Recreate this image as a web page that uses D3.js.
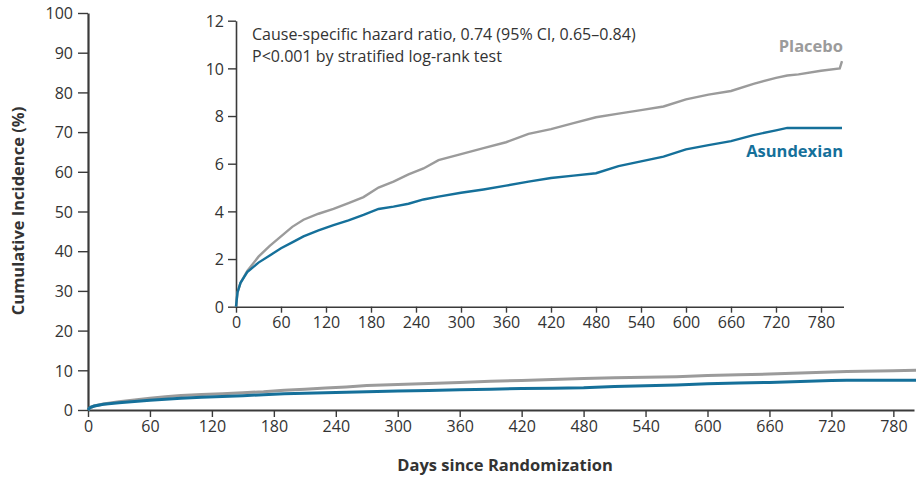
<!DOCTYPE html>
<html>
<head>
<meta charset="utf-8">
<script src="https://cdn.jsdelivr.net/npm/d3@7"></script>
<style>
  body { margin: 0; background: #fff; }
  svg text { font-family: "Open Sans", sans-serif; }
</style>
</head>
<body>
<div id="chart"></div>
<script>
// Data (days, cumulative incidence %)
var days =       [0, 2, 6, 15, 30, 45, 60, 75, 90, 110, 130, 150, 170, 190, 210, 230, 250, 270, 300, 330, 360, 390, 420, 450, 480, 510, 540, 570, 600, 630, 660, 690, 720, 735, 750, 780, 805, 808];
var placebo =    [0, 0.6, 1.0, 1.5, 2.1, 2.55, 2.95, 3.35, 3.65, 3.9, 4.1, 4.35, 4.6, 5.0, 5.25, 5.55, 5.8, 6.15, 6.4, 6.65, 6.9, 7.25, 7.45, 7.7, 7.95, 8.1, 8.25, 8.4, 8.7, 8.9, 9.05, 9.35, 9.6, 9.7, 9.75, 9.9, 10.0, 10.3];
var asundexian = [0, 0.6, 1.0, 1.45, 1.85, 2.15, 2.45, 2.7, 2.95, 3.2, 3.42, 3.62, 3.85, 4.1, 4.2, 4.32, 4.5, 4.62, 4.78, 4.92, 5.08, 5.25, 5.4, 5.5, 5.6, 5.9, 6.1, 6.3, 6.6, 6.78, 6.95, 7.2, 7.4, 7.5, 7.5, 7.5, 7.5, 7.5];

var xTicks = d3.range(0, 781, 60);
var mainYTicks = d3.range(0, 101, 10);
var insetYTicks = d3.range(0, 13, 2);

var seriesNames = ["Placebo", "Asundexian"];
var seriesValues = [placebo, asundexian];
var colors = {"Placebo": "#9b9b9b", "Asundexian": "#15709a"};

var svgWidth = 916;
var svgHeight = 478;

var svg = d3.select("#chart")
  .append("svg")
  .attr("width", svgWidth)
  .attr("height", svgHeight);

var series = seriesNames.map(function(name, i) {
  return {
    name: name,
    points: days.map(function(d, j) { return {day: d, value: seriesValues[i][j]}; })
  };
});

// Main panel scales
var xMain = d3.scaleLinear().domain([0, 800]).range([88, 914]);
var yMain = d3.scaleLinear().domain([0, 100]).range([410, 13]);

// Inset scales
var xInset = d3.scaleLinear().domain([0, 810]).range([236, 843.5]);
var yInset = d3.scaleLinear().domain([0, 12]).range([306.7, 20.7]);

function styleAxis(g, width) {
  g.selectAll("path").attr("stroke", "#3a3a3a").attr("stroke-width", width);
  g.selectAll("line").attr("stroke", "#3a3a3a").attr("stroke-width", 1.4);
  g.selectAll("text").attr("fill", "#333").style("font-size", "16px");
}

// Main axes
var mainX = svg.append("g")
  .attr("transform", "translate(0," + yMain(0) + ")")
  .call(d3.axisBottom(xMain).tickValues(xTicks).tickSize(7).tickSizeOuter(0).tickPadding(4));
styleAxis(mainX, 2.2);

var mainY = svg.append("g")
  .attr("transform", "translate(" + xMain(0) + ",0)")
  .call(d3.axisLeft(yMain).tickValues(mainYTicks).tickSize(10).tickSizeOuter(0).tickPadding(5));
styleAxis(mainY, 2.2);
mainY.selectAll("text").attr("dy", "0.36em");

// Main curves
var mainLine = d3.line()
  .x(function(d) { return xMain(d.day); })
  .y(function(d) { return yMain(d.value); });

svg.selectAll(".main-line")
  .data(series)
  .enter()
  .append("path")
  .attr("class", "main-line")
  .attr("fill", "none")
  .attr("stroke", function(d) { return colors[d.name]; })
  .attr("stroke-width", 3)
  .attr("d", function(d) { return mainLine(d.points); });

// Inset panel
var insetX = svg.append("g")
  .attr("transform", "translate(0," + yInset(0) + ")")
  .call(d3.axisBottom(xInset).tickValues(xTicks).tickSize(6).tickSizeOuter(0).tickPadding(4));
styleAxis(insetX, 1.6);

var insetY = svg.append("g")
  .attr("transform", "translate(" + xInset(0) + ",0)")
  .call(d3.axisLeft(yInset).tickValues(insetYTicks).tickSize(8).tickSizeOuter(0).tickPadding(4));
styleAxis(insetY, 1.6);
insetY.selectAll("text").attr("dy", "0.36em");

var insetLine = d3.line()
  .x(function(d) { return xInset(d.day); })
  .y(function(d) { return yInset(d.value); });

svg.selectAll(".inset-line")
  .data(series)
  .enter()
  .append("path")
  .attr("class", "inset-line")
  .attr("fill", "none")
  .attr("stroke", function(d) { return colors[d.name]; })
  .attr("stroke-width", 2.4)
  .attr("d", function(d) { return insetLine(d.points); });

// Series labels
svg.append("text")
  .attr("x", 843).attr("y", 52)
  .attr("text-anchor", "end")
  .attr("fill", colors["Placebo"])
  .style("font-size", "16.5px").style("font-weight", "bold")
  .text("Placebo");

svg.append("text")
  .attr("x", 843).attr("y", 157)
  .attr("text-anchor", "end")
  .attr("fill", colors["Asundexian"])
  .style("font-size", "16.5px").style("font-weight", "bold")
  .text("Asundexian");

// Annotation
svg.append("text")
  .attr("x", 252).attr("y", 40)
  .attr("fill", "#333")
  .style("font-size", "16px")
  .text("Cause-specific hazard ratio, 0.74 (95% CI, 0.65–0.84)");

svg.append("text")
  .attr("x", 252).attr("y", 62)
  .attr("fill", "#333")
  .style("font-size", "16px")
  .text("P<0.001 by stratified log-rank test");

// Axis titles
svg.append("text")
  .attr("transform", "translate(24,211) rotate(-90)")
  .attr("text-anchor", "middle")
  .attr("fill", "#333")
  .style("font-size", "16.5px").style("font-weight", "bold")
  .text("Cumulative Incidence (%)");

svg.append("text")
  .attr("x", 505).attr("y", 471)
  .attr("text-anchor", "middle")
  .attr("fill", "#333")
  .style("font-size", "16.5px").style("font-weight", "bold")
  .text("Days since Randomization");
</script>
</body>
</html>
